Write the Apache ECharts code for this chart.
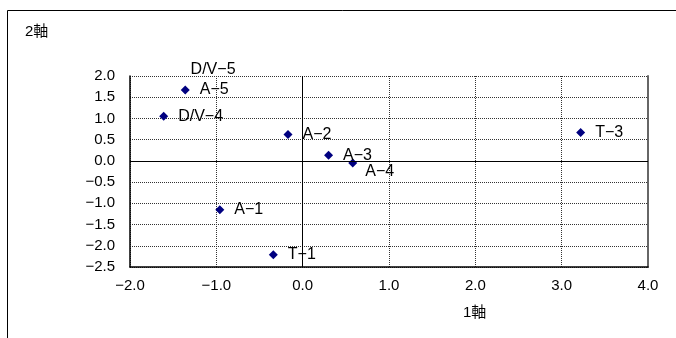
<!DOCTYPE html>
<html>
<head>
<meta charset="utf-8">
<script src="https://cdn.jsdelivr.net/npm/echarts@6/dist/echarts.min.js"></script>
<style>
  html, body { margin: 0; padding: 0; background: #fff; }
  #chart { width: 676px; height: 338px; }
</style>
</head>
<body>
<div id="chart"></div>
<script>
// Sample scores on the first two axes
const pointNames = ['D/V-5', 'A-5', 'D/V-4', 'A-2', 'A-3', 'A-4', 'T-3', 'A-1', 'T-1'];
const axis1Scores = [-1.46, -1.36, -1.61, -0.17, 0.30, 0.58, 3.22, -0.96, -0.34];
const axis2Scores = [2.16, 1.67, 1.05, 0.62, 0.13, -0.05, 0.67, -1.15, -2.21];

const xTicks = { min: -2, max: 4, step: 1 };
const yTicks = { min: -2.5, max: 2, step: 0.5 };
const xTitle = '1軸';
const yTitle = '2軸';

const FONT = "'Liberation Sans', 'Noto Sans CJK JP', sans-serif";
const minus = s => String(s).replace(/-/g, '\u2212');

const points = pointNames.map((name, i) => {
  const item = { name: name, value: [axis1Scores[i], axis2Scores[i]] };
  if (name === 'D/V-5') {
    // lies above the plotted range: only its label is visible
    item.symbolSize = 0;
    item.label = { distance: 14 };
  }
  if (name === 'A-4') {
    item.label = { offset: [-2, 9] };
  }
  return item;
});

const chart = echarts.init(document.getElementById('chart'), null, { renderer: 'canvas' });
chart.setOption({
  animation: false,
  backgroundColor: '#fff',
  textStyle: { fontFamily: FONT },
  grid: { left: 130, right: 28, top: 76, bottom: 71, containLabel: false },
  xAxis: {
    type: 'value',
    min: xTicks.min, max: xTicks.max, interval: xTicks.step,
    axisLine: { onZero: false, lineStyle: { color: '#000', width: 1.5 } },
    axisTick: { show: false },
    axisLabel: {
      margin: 11, color: '#000', fontSize: 15, fontFamily: FONT,
      formatter: v => minus(v.toFixed(1))
    },
    splitLine: { show: true, lineStyle: { color: '#333', width: 1, type: [1, 1] } }
  },
  yAxis: [
    {
      type: 'value',
      min: yTicks.min, max: yTicks.max, interval: yTicks.step,
      axisLine: { onZero: false, show: true, lineStyle: { color: '#000', width: 1.5 } },
      axisTick: { show: false },
      axisLabel: {
        margin: 15, color: '#000', fontSize: 15, fontFamily: FONT,
        formatter: v => minus(v.toFixed(1))
      },
      splitLine: { show: true, lineStyle: { color: '#333', width: 1, type: [1, 1] } }
    },
    {
      type: 'value', position: 'right',
      min: yTicks.min, max: yTicks.max, interval: yTicks.step,
      axisLine: { show: true, onZero: false, lineStyle: { color: '#666', width: 2 } },
      axisTick: { show: false },
      axisLabel: { show: false },
      splitLine: { show: false }
    }
  ],
  graphic: [
    {
      type: 'rect', silent: true, z: -1,
      shape: { x: 7.5, y: 10.5, width: 720, height: 400 },
      style: { fill: 'none', stroke: '#000', lineWidth: 1 }
    },
    {
      type: 'text', left: 25, top: 24,
      style: { text: yTitle, fill: '#000', font: '15px ' + FONT }
    },
    {
      type: 'text', left: 463, top: 305,
      style: { text: xTitle, fill: '#000', font: '15px ' + FONT }
    }
  ],
  series: [{
    type: 'scatter',
    yAxisIndex: 0,
    clip: false,
    symbol: 'diamond',
    symbolSize: 9,
    itemStyle: { color: '#000080', opacity: 1 },
    label: {
      show: true, position: 'right', distance: 10, opacity: 1,
      color: '#000', fontSize: 16, fontFamily: FONT,
      formatter: p => minus(p.name)
    },
    data: points,
    markLine: {
      silent: true, symbol: 'none', animation: false,
      label: { show: false },
      lineStyle: { color: '#000', width: 1, type: 'solid', opacity: 1 },
      data: [{ xAxis: 0 }, { yAxis: 0 }]
    }
  }]
});
</script>
</body>
</html>
